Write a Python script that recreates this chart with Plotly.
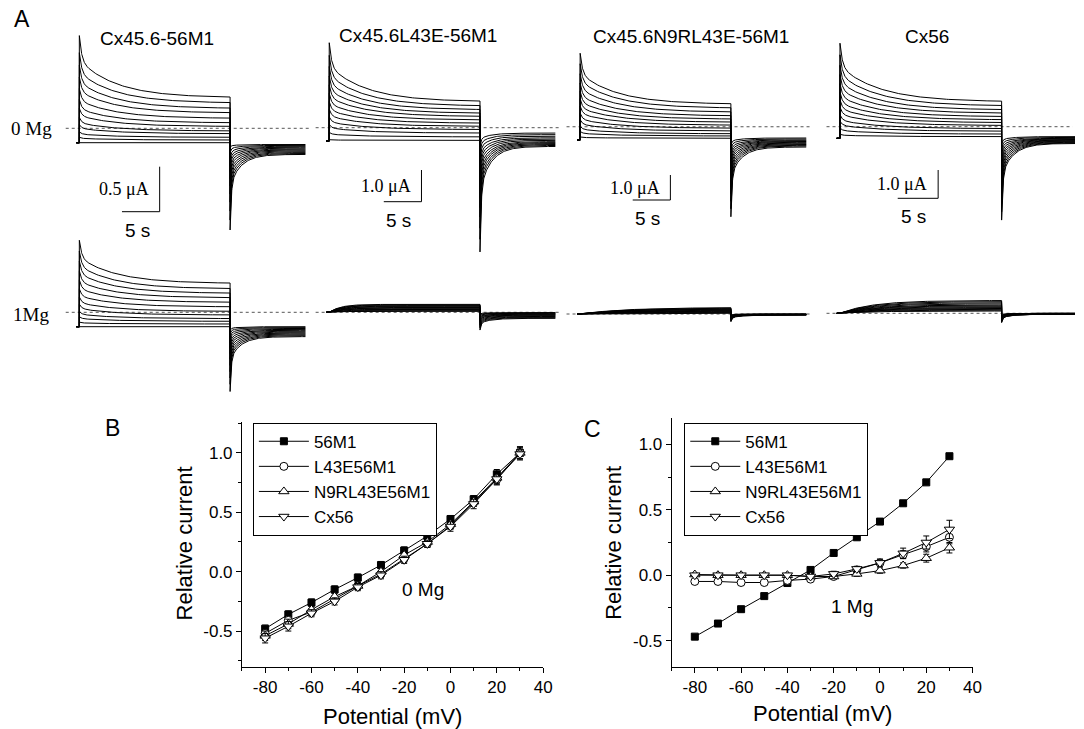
import numpy as np
import plotly.graph_objects as go

W, H = 1084, 729

# ---------------- Panel B / C data ----------------
potential = [-80, -70, -60, -50, -40, -30, -20, -10, 0, 10, 20, 30]
series_names = ["56M1", "L43E56M1", "N9RL43E56M1", "Cx56"]

B_56M1 = [-0.48, -0.36, -0.26, -0.15, -0.05, 0.056, 0.178, 0.30, 0.443, 0.61, 0.82, 1.0]
B_L43E = [-0.52, -0.41, -0.34, -0.23, -0.12, -0.02, 0.11, 0.235, 0.387, 0.58, 0.777, 1.0]
B_N9RL = [-0.54, -0.44, -0.32, -0.21, -0.12, 0.0, 0.14, 0.25, 0.40, 0.59, 0.79, 1.0]
B_Cx56 = [-0.56, -0.46, -0.35, -0.25, -0.13, -0.03, 0.10, 0.235, 0.38, 0.57, 0.78, 0.99]
B_err_56M1 = [0.03, 0.03, 0.03, 0.03, 0.03, 0.03, 0.03, 0.03, 0.03, 0.03, 0.04, 0.05]
B_err_L43E = [0.03, 0.03, 0.03, 0.03, 0.03, 0.03, 0.03, 0.03, 0.03, 0.03, 0.04, 0.05]
B_err_N9RL = [0.04, 0.04, 0.03, 0.03, 0.03, 0.03, 0.03, 0.03, 0.03, 0.04, 0.05, 0.05]
B_err_Cx56 = [0.04, 0.04, 0.03, 0.03, 0.03, 0.03, 0.03, 0.03, 0.04, 0.04, 0.05, 0.05]

C_56M1 = [-0.47, -0.37, -0.26, -0.16, -0.06, 0.04, 0.17, 0.29, 0.41, 0.55, 0.71, 0.91]
C_L43E = [-0.048, -0.048, -0.056, -0.056, -0.04, -0.03, -0.01, 0.04, 0.094, 0.157, 0.218, 0.29]
C_N9RL = [0.005, 0.0, 0.0, 0.0, 0.0, -0.01, -0.01, 0.01, 0.035, 0.074, 0.13, 0.21]
C_Cx56 = [0.0, 0.0, 0.0, 0.0, 0.0, -0.01, 0.01, 0.048, 0.094, 0.167, 0.25, 0.35]
C_err_56M1 = [0.01] * 12
C_err_L43E = [0.01, 0.01, 0.01, 0.01, 0.01, 0.01, 0.01, 0.02, 0.02, 0.03, 0.04, 0.05]
C_err_N9RL = [0.01, 0.01, 0.01, 0.01, 0.01, 0.01, 0.01, 0.02, 0.02, 0.02, 0.03, 0.04]
C_err_Cx56 = [0.01, 0.01, 0.01, 0.01, 0.01, 0.01, 0.02, 0.02, 0.03, 0.04, 0.05, 0.07]

x_ticks = [-80, -60, -40, -20, 0, 20, 40]
x_ticktext = ["-80", "-60", "-40", "-20", "0", "20", "40"]
y_ticks = [-0.5, 0.0, 0.5, 1.0]
y_ticktext = ["-0.5", "0.0", "0.5", "1.0"]

# ---------------- Panel A current families (μA) ----------------
panel_titles = ["Cx45.6-56M1", "Cx45.6L43E-56M1", "Cx45.6N9RL43E-56M1", "Cx56"]
scale_current = [0.5, 1.0, 1.0, 1.0]  # μA scale bars
scale_time = 5  # s

# 0 Mg row: steady state at end of step, initial peak, tail peak, tail end
A1_0_ss = [0.50, 0.44, 0.38, 0.33, 0.27, 0.22, 0.18, 0.13, 0.10, 0.06, 0.03, 0.0]
A1_0_pk = [1.19, 1.00, 0.86, 0.73, 0.60, 0.48, 0.38, 0.28, 0.20, 0.12, 0.06, 0.0]
A1_0_tp = [-0.97, -0.86, -0.76, -0.66, -0.57, -0.48, -0.40, -0.32, -0.25, -0.18, -0.11, -0.05]
A1_0_te = [-0.13, -0.12, -0.11, -0.10, -0.09, -0.08, -0.07, -0.06, -0.05, -0.04, -0.03, -0.02]

A2_0_ss = [1.24, 1.10, 0.98, 0.87, 0.77, 0.66, 0.56, 0.46, 0.36, 0.25, 0.13, 0.02]
A2_0_pk = [3.10, 2.70, 2.35, 2.05, 1.77, 1.50, 1.24, 1.00, 0.76, 0.52, 0.27, 0.04]
A2_0_tp = [-3.5, -3.1, -2.75, -2.4, -2.1, -1.8, -1.5, -1.22, -0.95, -0.68, -0.42, -0.18]
A2_0_te = [-0.17, -0.14, -0.11, -0.08, -0.05, -0.02, 0.02, 0.06, 0.1, 0.15, 0.2, 0.25]

A3_0_ss = [1.43, 1.27, 1.11, 0.96, 0.83, 0.71, 0.59, 0.47, 0.36, 0.25, 0.16, 0.07]
A3_0_pk = [3.47, 3.05, 2.65, 2.28, 1.95, 1.65, 1.36, 1.07, 0.81, 0.55, 0.34, 0.12]
A3_0_tp = [-3.07, -2.75, -2.45, -2.15, -1.87, -1.6, -1.34, -1.09, -0.85, -0.62, -0.4, -0.2]
A3_0_te = [-0.28, -0.24, -0.21, -0.18, -0.15, -0.12, -0.09, -0.06, -0.03, 0.0, 0.04, 0.08]

A4_0_ss = [1.29, 1.14, 1.00, 0.88, 0.76, 0.65, 0.55, 0.45, 0.34, 0.25, 0.15, 0.06]
A4_0_pk = [3.36, 2.95, 2.58, 2.25, 1.93, 1.63, 1.36, 1.10, 0.83, 0.60, 0.36, 0.14]
A4_0_tp = [-2.89, -2.6, -2.3, -2.02, -1.76, -1.5, -1.26, -1.03, -0.8, -0.58, -0.38, -0.19]
A4_0_te = [-0.18, -0.16, -0.14, -0.12, -0.10, -0.08, -0.06, -0.04, -0.02, 0.0, 0.03, 0.06]

# 1 Mg row
A1_1_ss = [0.48, 0.42, 0.37, 0.32, 0.27, 0.22, 0.17, 0.13, 0.09, 0.06, 0.03, 0.0]
A1_1_pk = [0.96, 0.84, 0.73, 0.62, 0.52, 0.42, 0.33, 0.25, 0.17, 0.11, 0.05, 0.0]
A1_1_tp = [-0.72, -0.64, -0.57, -0.50, -0.43, -0.36, -0.30, -0.24, -0.18, -0.13, -0.08, -0.04]
A1_1_te = [-0.11, -0.10, -0.09, -0.08, -0.07, -0.06, -0.05, -0.04, -0.03, -0.02, -0.01, 0.0]

A2_1_ss = [0.25, 0.23, 0.21, 0.19, 0.17, 0.15, 0.13, 0.11, 0.09, 0.07, 0.05, 0.03]
A2_1_tp = [-0.56, -0.50, -0.45, -0.40, -0.35, -0.30, -0.26, -0.22, -0.18, -0.14, -0.10, -0.06]
A2_1_te = [-0.19, -0.17, -0.15, -0.13, -0.11, -0.09, -0.08, -0.06, -0.05, -0.03, -0.02, -0.01]

A3_1_ss = [0.25, 0.23, 0.21, 0.19, 0.17, 0.15, 0.13, 0.11, 0.09, 0.07, 0.05, 0.03]
A3_1_tp = [-0.31, -0.28, -0.25, -0.22, -0.19, -0.17, -0.15, -0.13, -0.11, -0.09, -0.07, -0.05]
A3_1_te = [-0.04, -0.04, -0.03, -0.03, -0.03, -0.02, -0.02, -0.02, -0.01, -0.01, 0.0, 0.0]

A4_1_ss = [0.45, 0.41, 0.37, 0.33, 0.29, 0.26, 0.23, 0.20, 0.17, 0.14, 0.11, 0.08]
A4_1_tp = [-0.33, -0.30, -0.27, -0.24, -0.21, -0.19, -0.17, -0.15, -0.13, -0.11, -0.09, -0.07]
A4_1_te = [-0.03, -0.03, -0.03, -0.02, -0.02, -0.02, -0.01, -0.01, -0.01, 0.0, 0.0, 0.0]

rise_tau_1Mg = [None, 1.5, 6.0, 4.0]  # s, activation in 1 Mg
zero_level_0Mg = [0.16, 0.42, 0.53, 0.41]
zero_level_1Mg = [0.16, 0.0, 0.0, 0.0]

step_dur, tail_dur = 20.0, 10.0

# ---------------- Layout geometry (pixels) ----------------
col_geom = [dict(x0=80, pps=7.6, ppu=90.0),
            dict(x0=332, pps=7.6, ppu=31.7),
            dict(x0=585, pps=7.6, ppu=25.0),
            dict(x0=847, pps=8.15, ppu=28.3)]
row0_base = [142.7, 141.0, 140.0, 138.3]
row1_base = [326.7, 312.3, 314.0, 313.3]
row0_box = [(28, 236), (28, 262), (28, 262), (28, 262)]
row1_box = [(236, 405), (270, 350), (270, 350), (270, 350)]
scalebar_px = [(161, 166.7), (425, 170), (676, 175), (946, 170)]  # x of vertical bar, top y


def PX(x):
    return x / W


def PY(y):
    return 1 - y / H


t_step = np.concatenate([np.linspace(0, 1, 41), np.linspace(1.05, step_dur, 90)])
t_tail = np.concatenate([np.linspace(0, 1, 41), np.linspace(1.05, tail_dur, 70)])


def tail_shape(tt):
    return 0.6 * np.exp(-tt / 0.15) + 0.4 * np.exp(-tt / 1.5)


def family_decay(ss, pk, tp, te):
    xs, ys = [], []
    for s, p, a, e in zip(ss, pk, tp, te):
        step = s + (p - s) * (0.4 * np.exp(-t_step / 0.3) + 0.6 * np.exp(-t_step / 5.0))
        tail = e + (a - e) * tail_shape(t_tail)
        xs += [-0.4, 0.0] + list(t_step) + list(step_dur + t_tail) + [None]
        ys += [0.0, 0.0] + list(step) + list(tail) + [None]
    return xs, ys


def family_rise(ss, tp, te, tau):
    xs, ys = [], []
    for s, a, e in zip(ss, tp, te):
        step = s * (1 - np.exp(-t_step / tau)) / (1 - np.exp(-step_dur / tau))
        tail = e + (a - e) * tail_shape(t_tail)
        xs += [-0.4] + list(t_step) + list(step_dur + t_tail) + [None]
        ys += [0.0] + list(step) + list(tail) + [None]
    return xs, ys


fig = go.Figure()
FONT_SANS = "Arial, Liberation Sans, sans-serif"
FONT_SERIF = "Times New Roman, Liberation Serif, serif"

annotations = []
layout_axes = {}


def paper_text(txt, px, py, size, family=FONT_SANS, angle=0):
    annotations.append(dict(x=PX(px), y=PY(py), xref="paper", yref="paper", text=txt, textangle=angle,
                            showarrow=False, xanchor="center", yanchor="middle",
                            font=dict(family=family, size=size, color="black")))


fam0 = [(A1_0_ss, A1_0_pk, A1_0_tp, A1_0_te), (A2_0_ss, A2_0_pk, A2_0_tp, A2_0_te),
        (A3_0_ss, A3_0_pk, A3_0_tp, A3_0_te), (A4_0_ss, A4_0_pk, A4_0_tp, A4_0_te)]
fam1 = [(A1_1_ss, A1_1_pk, A1_1_tp, A1_1_te), (A2_1_ss, A2_1_tp, A2_1_te),
        (A3_1_ss, A3_1_tp, A3_1_te), (A4_1_ss, A4_1_tp, A4_1_te)]

ax_id = 3
for c in range(4):
    g = col_geom[c]
    xl = g["x0"] - 16
    xr = min(g["x0"] + 30 * g["pps"] + 6, W)
    trange = [(xl - g["x0"]) / g["pps"], (xr - g["x0"]) / g["pps"]]
    for r in range(2):
        base = row0_base[c] if r == 0 else row1_base[c]
        top, bot = row0_box[c] if r == 0 else row1_box[c]
        yrange = [(base - bot) / g["ppu"], (base - top) / g["ppu"]]
        xa, ya = f"xaxis{ax_id}", f"yaxis{ax_id}"
        layout_axes[xa] = dict(domain=[PX(xl), PX(xr)], range=trange, visible=False,
                               anchor=f"y{ax_id}", fixedrange=True)
        layout_axes[ya] = dict(domain=[PY(bot), PY(top)], range=yrange, visible=False,
                               anchor=f"x{ax_id}", fixedrange=True)
        xref, yref = f"x{ax_id}", f"y{ax_id}"
        # dotted zero line
        zl = zero_level_0Mg[c] if r == 0 else zero_level_1Mg[c]
        fig.add_trace(go.Scatter(x=[trange[0] + 0.3, trange[1] - 0.3], y=[zl, zl], mode="lines",
                                 line=dict(color="#555", width=1, dash="dot"),
                                 xaxis=xref, yaxis=yref, showlegend=False, hoverinfo="skip"))
        if r == 0:
            xs, ys = family_decay(*fam0[c])
        else:
            if c == 0:
                xs, ys = family_decay(*fam1[c])
            else:
                xs, ys = family_rise(*fam1[c], rise_tau_1Mg[c])
        fig.add_trace(go.Scatter(x=xs, y=ys, mode="lines", line=dict(color="black", width=1),
                                 xaxis=xref, yaxis=yref, showlegend=False, hoverinfo="skip"))
        if r == 0:
            # scale bars
            bx, by = scalebar_px[c]
            tb = (bx - g["x0"]) / g["pps"]
            itop = (base - by) / g["ppu"]
            ibot = itop - scale_current[c]
            fig.add_trace(go.Scatter(x=[tb, tb, tb - scale_time], y=[itop, ibot, ibot], mode="lines",
                                     line=dict(color="black", width=1),
                                     xaxis=xref, yaxis=yref, showlegend=False, hoverinfo="skip"))
            annotations.append(dict(x=tb - 1.1, y=(itop + ibot) / 2, xref=xref, yref=yref,
                                    text=f"{scale_current[c]:.1f} μA", showarrow=False,
                                    xanchor="right", yanchor="middle",
                                    font=dict(family=FONT_SERIF, size=18, color="black")))
            annotations.append(dict(x=tb - scale_time / 2 - 0.5, y=ibot, xref=xref, yref=yref,
                                    text=f"{scale_time} s", showarrow=False,
                                    xanchor="center", yanchor="top", yshift=-6,
                                    font=dict(family=FONT_SANS, size=19, color="black")))
        ax_id += 1

# titles of panel A columns
title_px = [(158, 38), (421.7, 35), (696.7, 36.7), (935, 36.7)]
for (tx, ty), txt in zip(title_px, panel_titles):
    paper_text(txt, tx, ty, 19)

# row labels
paper_text("0 Mg", 31.5, 128, 19, FONT_SERIF)
paper_text("1Mg", 31.7, 314, 19, FONT_SERIF)

# panel letters
for txt, (lx, ly) in [("A", (22, 19)), ("B", (113, 428)), ("C", (597, 429))]:
    paper_text(txt, lx, ly, 23)

# ---------------- Panels B and C ----------------
markers = [dict(symbol="square", color="black", size=7, line=dict(color="black", width=1)),
           dict(symbol="circle", color="white", size=8, line=dict(color="black", width=1)),
           dict(symbol="triangle-up", color="white", size=9, line=dict(color="black", width=1)),
           dict(symbol="triangle-down", color="white", size=9, line=dict(color="black", width=1))]

B_vals = [B_56M1, B_L43E, B_N9RL, B_Cx56]
B_errs = [B_err_56M1, B_err_L43E, B_err_N9RL, B_err_Cx56]
C_vals = [C_56M1, C_L43E, C_N9RL, C_Cx56]
C_errs = [C_err_56M1, C_err_L43E, C_err_N9RL, C_err_Cx56]

for i in range(4):
    fig.add_trace(go.Scatter(x=potential, y=B_vals[i], mode="lines+markers", name=series_names[i],
                             line=dict(color="black", width=1), marker=markers[i],
                             error_y=dict(type="data", array=B_errs[i], thickness=1, width=3, color="black"),
                             xaxis="x", yaxis="y", legend="legend"))
for i in range(4):
    fig.add_trace(go.Scatter(x=potential, y=C_vals[i], mode="lines+markers", name=series_names[i],
                             line=dict(color="black", width=1), marker=markers[i],
                             error_y=dict(type="data", array=C_errs[i], thickness=1, width=3, color="black"),
                             xaxis="x2", yaxis="y2", legend="legend2"))

tickfont = dict(family=FONT_SANS, size=17, color="black")


def xaxis_cfg(dom, anchor):
    return dict(domain=dom, range=[-90, 40], anchor=anchor, showline=True, linecolor="black", linewidth=1,
                ticks="outside", ticklen=5, tickcolor="black", tickmode="array", tickvals=x_ticks,
                ticktext=x_ticktext, tickfont=tickfont, showgrid=False, zeroline=False,
                minor=dict(ticks="outside", ticklen=3, tickvals=[-90, -70, -50, -30, -10, 10, 30],
                           tickcolor="black", showgrid=False),
                fixedrange=True)


def yaxis_cfg(dom, rng, anchor):
    return dict(domain=dom, range=rng, anchor=anchor, showline=True, linecolor="black", linewidth=1,
                ticks="outside", ticklen=5, tickcolor="black", tickmode="array", tickvals=y_ticks,
                ticktext=y_ticktext, tickfont=tickfont, showgrid=False, zeroline=False,
                minor=dict(ticks="outside", ticklen=3, tickvals=[-0.75, -0.25, 0.25, 0.75, 1.25],
                           tickcolor="black", showgrid=False),
                fixedrange=True)


layout_axes["xaxis"] = xaxis_cfg([PX(244), PX(547.7)], "y")
layout_axes["yaxis"] = yaxis_cfg([PY(666.7), PY(422)], [-0.8, 1.26], "x")
layout_axes["xaxis2"] = xaxis_cfg([PX(677.3), PX(980.7)], "y2")
layout_axes["yaxis2"] = yaxis_cfg([PY(666.7), PY(418.3)], [-0.7, 1.2], "x2")

# axis titles and condition labels
paper_text("Relative current", 186, 543, 22, angle=-90)
paper_text("Relative current", 618, 543, 22, angle=-90)
paper_text("Potential (mV)", 395.3, 716, 22)
paper_text("Potential (mV)", 829.3, 713, 22)

annotations.append(dict(x=-12, y=-0.15, xref="x", yref="y", text="0 Mg", showarrow=False,
                        xanchor="center", yanchor="middle",
                        font=dict(family=FONT_SANS, size=19, color="black")))
annotations.append(dict(x=-12, y=-0.24, xref="x2", yref="y2", text="1 Mg", showarrow=False,
                        xanchor="center", yanchor="middle",
                        font=dict(family=FONT_SANS, size=19, color="black")))

legend_common = dict(xanchor="left", yanchor="top", bordercolor="black", borderwidth=1, bgcolor="white",
                     font=dict(family=FONT_SANS, size=17, color="black"), tracegroupgap=0,
                     itemwidth=50)

fig.update_layout(
    width=W, height=H, margin=dict(l=0, r=0, t=0, b=0),
    paper_bgcolor="white", plot_bgcolor="rgba(0,0,0,0)",
    annotations=annotations,
    legend=dict(x=PX(255), y=PY(422.7), **legend_common),
    legend2=dict(x=PX(690), y=PY(422.7), **legend_common),
    **layout_axes,
)

fig.write_html("out.html")
